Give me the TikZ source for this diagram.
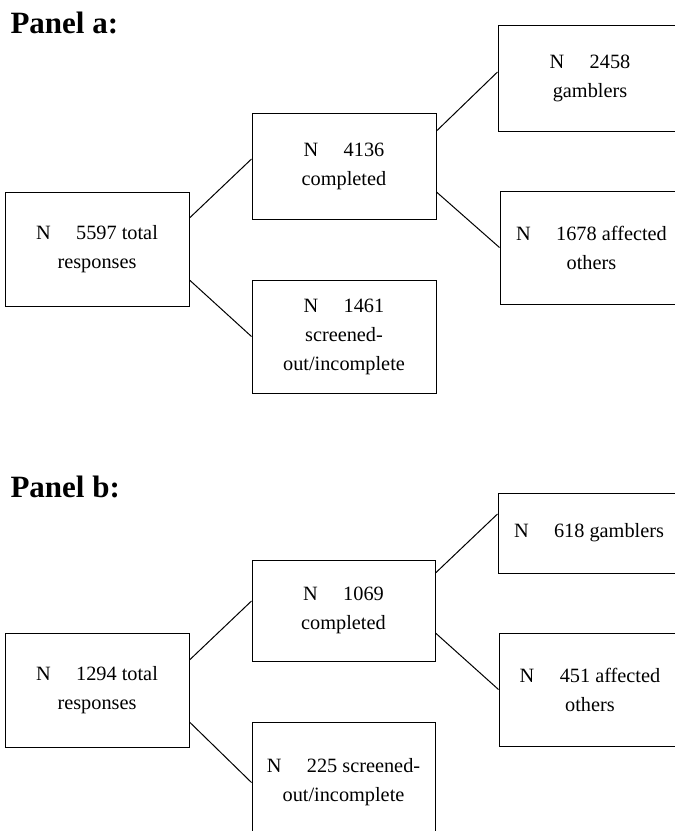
\documentclass[tikz,border=0pt]{standalone}
\usepackage{fontspec}
\setmainfont{Liberation Serif}
\newcommand{\Ngap}{\hspace{1.25em}}

\begin{document}
\begin{tikzpicture}[x=1pt,y=-1pt,line width=1pt,
  box/.style={draw,align=center,inner sep=0pt,font=\fontsize{20.3}{29}\selectfont},
  panel/.style={anchor=west,inner sep=0pt,font=\fontsize{31}{36}\selectfont\bfseries}]
\useasboundingbox (0,0) rectangle (675,831);
\clip (0,0) rectangle (675,831);
% panel a
\node[panel] (p1) at (10,23) {Panel a:};
\node[box,minimum width=184pt,minimum height=114pt] (r1) at (97,249) {N\Ngap 5597 total\\responses};
\node[box,minimum width=184pt,minimum height=106pt] (c1) at (344,166) {N\Ngap 4136\\completed};
\node[box,minimum width=184pt,minimum height=113pt] (s1) at (344,336.5) {N\Ngap 1461\\screened-\\out/incomplete};
\node[box,minimum width=184pt,minimum height=106pt] (g1) at (590,78) {N\Ngap 2458\\gamblers};
\node[box,minimum width=183pt,minimum height=113pt] (o1) at (591.5,247.5) {N\Ngap 1678 affected\\others};
\draw ([yshift=31pt]r1.east) -- ([yshift=7pt]c1.west);
\draw ([yshift=-31pt]r1.east) -- (s1.west);
\draw ([yshift=35pt]c1.east) -- ([yshift=6pt]g1.west);
\draw ([yshift=-26pt]c1.east) -- (o1.west);
% panel b
\node[panel] (p2) at (10,487) {Panel b:};
\node[box,minimum width=184pt,minimum height=114pt] (r2) at (97,690) {N\Ngap 1294 total\\responses};
\node[box,minimum width=183pt,minimum height=101pt] (c2) at (343.5,610.5) {N\Ngap 1069\\completed};
\node[box,minimum width=183pt,minimum height=121pt] (s2) at (343.5,782.5) {N\Ngap 225 screened-\\out/incomplete};
\node[box,minimum width=182pt,minimum height=80pt] (g2) at (589,533) {N\Ngap 618 gamblers};
\node[box,minimum width=182pt,minimum height=113pt] (o2) at (590,689.5) {N\Ngap 451 affected\\others};
\draw ([yshift=30pt]r2.east) -- ([yshift=9.5pt]c2.west);
\draw ([yshift=-32pt]r2.east) -- (s2.west);
\draw ([yshift=37.5pt]c2.east) -- ([yshift=19pt]g2.west);
\draw ([yshift=-22.5pt]c2.east) -- (o2.west);
\end{tikzpicture}
\end{document}
